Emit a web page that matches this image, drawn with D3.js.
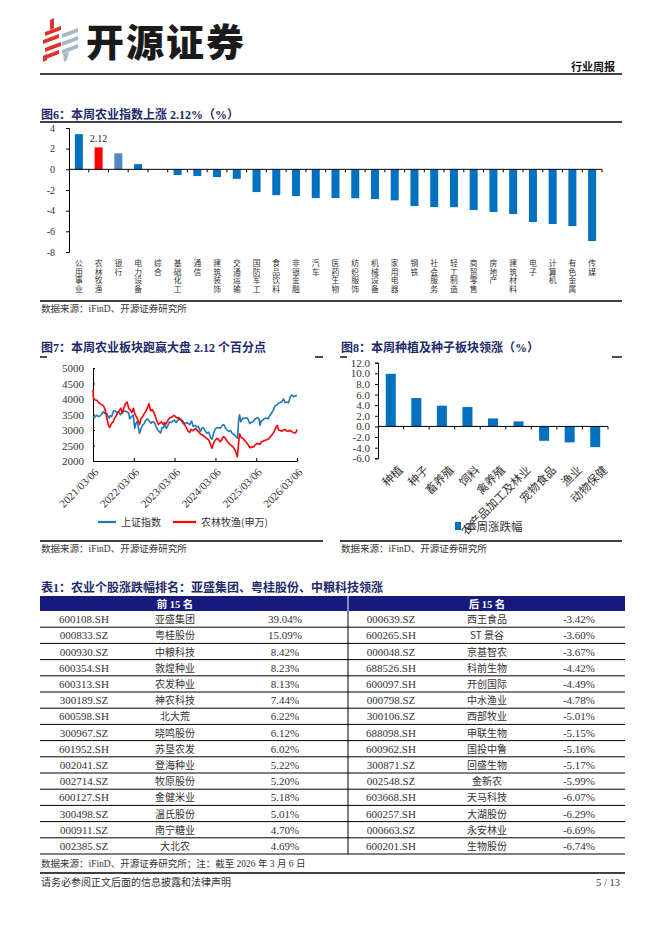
<!DOCTYPE html>
<html><head><meta charset="utf-8">
<script src="https://cdn.jsdelivr.net/npm/d3@7"></script>
<style>body{margin:0;background:#fff}svg{display:block}</style>
</head><body>
<script>
// ---------- DATA ----------
const industries6 = ["公用事业","农林牧渔","银行","电力设备","综合","基础化工","通信","建筑装饰","交通运输","国防军工","食品饮料","非银金融","汽车","医药生物","纺织服饰","机械设备","家用电器","钢铁","社会服务","轻工制造","商贸零售","房地产","建筑材料","电子","计算机","有色金属","传媒"];
const change6 = [3.40,2.12,1.55,0.50,0.02,-0.55,-0.65,-0.75,-0.92,-2.20,-2.50,-2.58,-2.78,-2.78,-2.80,-2.87,-3.00,-3.55,-3.65,-3.66,-3.94,-4.13,-4.33,-5.10,-5.29,-5.49,-6.94];
const yTicks6 = [4,2,0,-2,-4,-6,-8];

const shDates = ["2021-03-06","2021-03-20","2021-04-06","2021-04-20","2021-05-06","2021-05-20","2021-06-06","2021-06-20","2021-07-06","2021-07-27","2021-08-06","2021-08-20","2021-09-06","2021-09-20","2021-10-06","2021-10-20","2021-11-06","2021-11-20","2021-12-06","2021-12-20","2022-01-06","2022-01-20","2022-01-28","2022-02-14","2022-03-01","2022-03-15","2022-03-25","2022-04-06","2022-04-26","2022-05-06","2022-05-20","2022-06-06","2022-06-20","2022-07-06","2022-07-20","2022-08-06","2022-08-20","2022-09-06","2022-09-20","2022-10-06","2022-10-31","2022-11-14","2022-11-28","2022-12-06","2022-12-23","2023-01-06","2023-01-20","2023-02-06","2023-02-20","2023-03-06","2023-03-20","2023-04-06","2023-04-20","2023-05-06","2023-05-20","2023-06-06","2023-06-20","2023-07-06","2023-07-20","2023-08-06","2023-08-20","2023-09-06","2023-09-20","2023-10-06","2023-10-23","2023-11-06","2023-11-20","2023-12-06","2023-12-20","2024-01-06","2024-01-22","2024-02-05","2024-02-20","2024-03-06","2024-03-20","2024-04-06","2024-04-20","2024-05-06","2024-05-20","2024-06-06","2024-06-20","2024-07-06","2024-07-20","2024-08-06","2024-08-20","2024-09-06","2024-09-20","2024-09-30","2024-10-08","2024-10-18","2024-11-06","2024-11-20","2024-12-06","2024-12-20","2025-01-06","2025-01-20","2025-02-06","2025-02-20","2025-03-06","2025-03-20","2025-04-03","2025-04-08","2025-04-20","2025-05-06","2025-05-20","2025-06-06","2025-06-20","2025-07-06","2025-07-20","2025-08-06","2025-08-20","2025-09-06","2025-09-20","2025-10-06","2025-10-20","2025-11-06","2025-11-20","2025-12-06","2025-12-20","2026-01-06","2026-01-20","2026-02-06","2026-02-20","2026-03-06"];
const shValues = [3430,3400,3480,3440,3450,3500,3590,3530,3540,3380,3460,3430,3620,3610,3570,3590,3490,3560,3600,3610,3580,3550,3360,3430,3480,3060,3210,3280,2890,3000,3140,3200,3310,3360,3300,3220,3270,3240,3120,3010,2900,3080,3080,3210,3050,3150,3260,3240,3300,3320,3240,3320,3360,3340,3280,3200,3240,3210,3170,3290,3110,3150,3110,3110,2950,3060,3070,2970,2900,2930,2760,2700,2920,3040,3080,3070,3060,3150,3170,3050,2990,2950,2980,2870,2860,2790,2740,3340,3490,3260,3380,3370,3400,3370,3210,3240,3270,3350,3380,3400,3340,3150,3290,3320,3380,3380,3360,3470,3540,3640,3770,3810,3860,3880,3910,4000,3880,3900,3880,4080,4130,4070,4100,4110];

const agDates = ["2021-03-06","2021-03-10","2021-03-24","2021-04-08","2021-04-22","2021-05-08","2021-05-22","2021-06-08","2021-06-22","2021-07-06","2021-07-20","2021-08-03","2021-08-17","2021-09-01","2021-09-15","2021-09-29","2021-10-13","2021-10-27","2021-11-10","2021-11-24","2021-12-08","2021-12-22","2022-01-06","2022-01-20","2022-02-03","2022-02-17","2022-03-03","2022-03-17","2022-03-31","2022-04-14","2022-04-27","2022-05-11","2022-05-25","2022-06-08","2022-06-22","2022-07-06","2022-07-20","2022-08-03","2022-08-17","2022-08-31","2022-09-14","2022-09-28","2022-10-12","2022-10-26","2022-11-09","2022-11-23","2022-12-07","2022-12-21","2023-01-05","2023-01-19","2023-02-02","2023-02-16","2023-03-02","2023-03-16","2023-03-30","2023-04-13","2023-04-27","2023-05-11","2023-05-25","2023-06-08","2023-06-21","2023-07-05","2023-07-19","2023-08-02","2023-08-16","2023-08-30","2023-09-13","2023-09-27","2023-10-11","2023-10-25","2023-11-08","2023-11-22","2023-12-06","2023-12-20","2024-01-05","2024-01-19","2024-02-05","2024-02-20","2024-03-06","2024-03-20","2024-04-03","2024-04-17","2024-05-01","2024-05-15","2024-05-29","2024-06-12","2024-06-26","2024-07-10","2024-07-24","2024-08-07","2024-08-21","2024-09-04","2024-09-18","2024-09-30","2024-10-08","2024-10-22","2024-11-05","2024-11-19","2024-12-03","2024-12-17","2024-12-31","2025-01-14","2025-01-28","2025-02-11","2025-02-25","2025-03-11","2025-03-25","2025-04-08","2025-04-22","2025-05-06","2025-05-20","2025-06-03","2025-06-17","2025-07-01","2025-07-15","2025-07-29","2025-08-12","2025-08-26","2025-09-09","2025-09-23","2025-10-07","2025-10-21","2025-11-04","2025-11-18","2025-12-02","2025-12-16","2025-12-30","2026-01-13","2026-01-27","2026-02-10","2026-02-24","2026-03-06"];
const agValues = [4300,4020,3970,3960,3900,3850,3820,3780,3650,3420,3180,3080,3200,3260,3380,3450,3560,3620,3700,3540,3720,3850,3900,3700,3640,3560,3700,3500,3420,3300,3180,3380,3430,3530,3600,3720,3850,3620,3660,3580,3450,3300,3180,3220,3260,3180,3240,3200,3310,3380,3400,3440,3470,3420,3380,3400,3330,3290,3200,3150,3060,2960,2920,3020,2980,3020,3050,2980,2930,2860,2850,2800,2770,2720,2680,2560,2410,2600,2680,2730,2700,2620,2680,2780,2760,2680,2600,2560,2500,2470,2400,2300,2140,2600,2880,2760,2740,2680,2620,2560,2470,2420,2460,2450,2520,2560,2560,2540,2620,2640,2660,2680,2700,2740,2800,2860,2940,3060,3150,3000,2980,2960,3000,3020,2970,2960,2990,2960,2930,2900,2920,3020];
const xTickDates7 = ["2021/03/06","2022/03/06","2023/03/06","2024/03/06","2025/03/06","2026/03/06"];
const yTicks7 = [2000,2500,3000,3500,4000,4500,5000];

const sectors8 = ["种植","种子","畜养殖","饲料","禽养殖","农产品加工及林业","宠物食品","渔业","动物保健"];
const change8 = [9.9,5.35,3.9,3.65,1.5,0.95,-2.7,-3.0,-3.9];
const yTicks8 = [12,10,8,6,4,2,0,-2,-4,-6];

const topCodes = ["600108.SH","000833.SZ","000930.SZ","600354.SH","600313.SH","300189.SZ","600598.SH","300967.SZ","601952.SH","002041.SZ","002714.SZ","600127.SH","300498.SZ","000911.SZ","002385.SZ"];
const topNames = ["亚盛集团","粤桂股份","中粮科技","敦煌种业","农发种业","神农科技","北大荒","晓鸣股份","苏垦农发","登海种业","牧原股份","金健米业","温氏股份","南宁糖业","大北农"];
const topPct = [39.04,15.09,8.42,8.23,8.13,7.44,6.22,6.12,6.02,5.22,5.20,5.18,5.01,4.70,4.69];
const botCodes = ["000639.SZ","600265.SH","000048.SZ","688526.SH","600097.SH","000798.SZ","300106.SZ","688098.SH","600962.SH","300871.SZ","002548.SZ","603668.SH","600257.SH","000663.SZ","600201.SH"];
const botNames = ["西王食品","ST 景谷","京基智农","科前生物","开创国际","中水渔业","西部牧业","申联生物","国投中鲁","回盛生物","金新农","天马科技","大湖股份","永安林业","生物股份"];
const botPct = [-3.42,-3.60,-3.67,-4.42,-4.49,-4.78,-5.01,-5.15,-5.16,-5.17,-5.99,-6.07,-6.29,-6.69,-6.74];

// ---------- STYLE ----------
const SERIF = "'Liberation Serif','Times New Roman','Noto Sans CJK SC',serif";
const CJK = "'Noto Sans CJK SC','Liberation Serif',sans-serif";
const NAVY = "#1d2a6c";
const BLUE = "#0070c0";
const TXT = "#333";
const hy = s => s.replace(/\u2212/g,"-");

const svg = d3.select("body").append("svg").attr("width",662).attr("height",936)
  .style("background","#fff");

function hline(x1,x2,y,w=1.2,c="#000"){svg.append("line").attr("x1",x1).attr("x2",x2).attr("y1",y).attr("y2",y).attr("stroke",c).attr("stroke-width",w);}
function text(x,y,s,opt={}){
  const t=svg.append("text").attr("x",x).attr("y",y).text(s)
    .attr("font-family",opt.ff||SERIF).attr("font-size",opt.fs||10)
    .attr("fill",opt.fill||TXT).attr("text-anchor",opt.anchor||"start");
  if(opt.fw) t.attr("font-weight",opt.fw);
  return t;
}

// ---------- HEADER ----------
const logo = svg.append("g");
[[45,26],[43,34],[45,42],[43,50]].forEach(([x,y])=>{
  logo.append("path").attr("d",`M${x},${y+6} L${x+16},${y} L${x+16},${y+4} L${x},${y+10}Z`).attr("fill","#e2332b");
});
logo.append("path").attr("d","M50,20 L54,18 L54,28 L50,30Z").attr("fill","#e2332b");
logo.append("path").attr("d","M43,56 L47,54 L47,60 L43,62Z").attr("fill","#e2332b");
[[62,28],[62,36],[62,44]].forEach(([x,y])=>{
  logo.append("path").attr("d",`M${x},${y+6} L${x+16},${y} L${x+16},${y+4} L${x},${y+10}Z`).attr("fill","#a9b8c6");
});
logo.append("path").attr("d","M63,54 L69,52 L67,60 L64,62Z").attr("fill","#a9b8c6");
text(86,56,"开源证券",{ff:CJK,fs:38,fw:900,fill:"#1a1a1a"}).attr("letter-spacing",2);
text(615,71,"行业周报",{ff:CJK,fs:11,fw:700,fill:"#111",anchor:"end"});
hline(40,622,74,1.4);

// ---------- FIG 6 ----------
text(41,119,"图6：本周农业指数上涨 2.12%（%）",{ff:SERIF,fs:12,fw:700,fill:NAVY});
hline(40,622,122,1.4);
const x6 = d3.scaleBand().domain(industries6).range([69,602]);
const y6 = d3.scaleLinear().domain([-8,4]).range([252,128]);
const g6 = svg.append("g");
g6.selectAll("rect").data(industries6).join("rect")
  .attr("x",d=>x6(d)+x6.bandwidth()/2-4).attr("width",8)
  .attr("y",(d,i)=>y6(Math.max(0,change6[i])))
  .attr("height",(d,i)=>Math.abs(y6(change6[i])-y6(0)))
  .attr("fill",(d,i)=>d==="农林牧渔"?"#ff0000":(d==="银行"?"#5485c4":BLUE));
g6.append("g").attr("transform","translate(69,0)")
  .call(d3.axisLeft(y6).tickValues(yTicks6).tickSize(3).tickFormat(d=>hy(d3.format("d")(d))))
  .call(a=>{a.select(".domain").attr("stroke","#000");a.selectAll("line").attr("stroke","#000");
    a.selectAll("text").attr("font-family",SERIF).attr("font-size",10).attr("fill",TXT).attr("dx",-8);});
g6.append("line").attr("x1",69).attr("x2",602).attr("y1",y6(0)).attr("y2",y6(0)).attr("stroke","#000").attr("stroke-width",1);
industries6.forEach(d=>{
  g6.append("line").attr("x1",x6(d)+x6.bandwidth()).attr("x2",x6(d)+x6.bandwidth()).attr("y1",y6(0)).attr("y2",y6(0)+3).attr("stroke","#000");
});
text(x6("农林牧渔")+x6.bandwidth()/2,y6(change6[1])-5,"2.12",{fs:10,anchor:"middle",fill:"#222"});
g6.selectAll("text.vlab").data(industries6).join("text").attr("class","vlab")
  .attr("x",d=>x6(d)+x6.bandwidth()/2).attr("y",259)
  .attr("writing-mode","vertical-rl").style("text-orientation","upright")
  .attr("letter-spacing",1).attr("font-family",CJK).attr("font-size",7.8).attr("fill",TXT).text(d=>d);
hline(40,622,301,1.4);
text(41,312,"数据来源：iFinD、开源证券研究所",{fs:9.5,fill:TXT});

// ---------- FIG 7 ----------
text(41,352,"图7：本周农业板块跑赢大盘 2.12 个百分点",{fs:12,fw:700,fill:NAVY});
hline(40,47,357,1.4); hline(315,323,357,1.4);
const parse = d3.timeParse("%Y-%m-%d");
const parse2 = d3.timeParse("%Y/%m/%d");
const x7 = d3.scaleTime().domain([parse("2021-03-06"),parse("2026-03-06")]).range([93,297]);
const y7 = d3.scaleLinear().domain([2000,5000]).range([461,368]);
const g7 = svg.append("g");
g7.append("g").attr("transform","translate(93,0)")
  .call(d3.axisLeft(y7).tickValues(yTicks7).tickSize(-2).tickPadding(9).tickFormat(d3.format("d")))
  .call(a=>{a.select(".domain").attr("stroke","#000");a.selectAll("line").attr("stroke","#000");
    a.selectAll("text").attr("font-family",SERIF).attr("font-size",11).attr("fill",TXT);});
g7.append("g").attr("transform","translate(0,461)")
  .call(d3.axisBottom(x7).tickValues(xTickDates7.map(parse2)).tickSize(-3).tickFormat(d3.timeFormat("%Y/%m/%d")))
  .call(a=>{a.select(".domain").attr("stroke","#000");a.selectAll("line").attr("stroke","#000");
    a.selectAll("text").attr("font-family",SERIF).attr("font-size",11).attr("fill",TXT)
     .attr("text-anchor","end").attr("transform","translate(3,9) rotate(-45)").attr("dy","0.35em").attr("y",0);});
const line7 = d3.line().x(d=>x7(d[0])).y(d=>y7(d[1]));
g7.append("path").datum(shDates.map((d,i)=>[parse(d),shValues[i]]))
  .attr("d",line7).attr("fill","none").attr("stroke","#1f77bc").attr("stroke-width",1.6).attr("stroke-linejoin","round");
g7.append("path").datum(agDates.map((d,i)=>[parse(d),agValues[i]]))
  .attr("d",line7).attr("fill","none").attr("stroke","#ff0000").attr("stroke-width",1.6).attr("stroke-linejoin","round");
hline(98,116,522,2.2,"#1f77bc");
text(121,526,"上证指数",{ff:CJK,fs:10,fill:TXT});
hline(173,196,522,2.2,"#ff0000");
text(201,526,"农林牧渔(申万)",{ff:CJK,fs:10,fill:TXT});
hline(40,323,541,1.4);
text(41,552,"数据来源：iFinD、开源证券研究所",{fs:9.5,fill:TXT});

// ---------- FIG 8 ----------
text(341,352,"图8：本周种植及种子板块领涨（%）",{fs:12,fw:700,fill:NAVY});
hline(340,347,357,1.4); hline(612,622,357,1.4);
const x8 = d3.scaleBand().domain(sectors8).range([378,608]);
const y8 = d3.scaleLinear().domain([-6,12]).range([458.3,362.7]);
const g8 = svg.append("g");
g8.selectAll("rect").data(sectors8).join("rect")
  .attr("x",d=>x8(d)+x8.bandwidth()/2-5).attr("width",10)
  .attr("y",(d,i)=>y8(Math.max(0,change8[i])))
  .attr("height",(d,i)=>Math.abs(y8(change8[i])-y8(0)))
  .attr("fill",BLUE);
g8.append("g").attr("transform","translate(378,0)")
  .call(d3.axisLeft(y8).tickValues(yTicks8).tickSize(3).tickFormat(d=>hy(d3.format(".1f")(d))))
  .call(a=>{a.select(".domain").attr("stroke","#000");a.selectAll("line").attr("stroke","#000");
    a.selectAll("text").attr("font-family",SERIF).attr("font-size",11).attr("fill",TXT).attr("dx",-2);});
g8.append("line").attr("x1",378).attr("x2",608).attr("y1",y8(0)).attr("y2",y8(0)).attr("stroke","#000");
sectors8.forEach(d=>{
  g8.append("line").attr("x1",x8(d)+x8.bandwidth()).attr("x2",x8(d)+x8.bandwidth()).attr("y1",y8(0)).attr("y2",y8(0)+3).attr("stroke","#000");
});
sectors8.forEach(d=>{
  g8.append("text").attr("transform",`translate(${x8(d)+x8.bandwidth()/2+10},468) rotate(-45)`)
    .attr("text-anchor","end").attr("dy","0.35em").attr("font-family",CJK).attr("font-size",11.5).attr("fill",TXT).text(d);
});
g8.append("rect").attr("x",455).attr("y",522).attr("width",6).attr("height",8).attr("fill",BLUE);
text(465,531,"本周涨跌幅",{ff:CJK,fs:11.5,fill:TXT});
hline(340,622,541,1.4);
text(341,552,"数据来源：iFinD、开源证券研究所",{fs:9.5,fill:TXT});

// ---------- TABLE ----------
text(41,592,"表1：农业个股涨跌幅排名：亚盛集团、粤桂股份、中粮科技领涨",{fs:12,fw:700,fill:NAVY});
const HDR="#16197d";
svg.append("rect").attr("x",40).attr("y",596).attr("width",307.5).attr("height",15).attr("fill",HDR);
svg.append("rect").attr("x",348.5).attr("y",596).attr("width",276.5).attr("height",15).attr("fill",HDR);
text(175,607.5,"前 15 名",{fs:10.5,fw:700,fill:"#fff",anchor:"middle"});
text(487,607.5,"后 15 名",{fs:10.5,fw:700,fill:"#fff",anchor:"middle"});
const rowY = d3.scaleLinear().domain([0,15]).range([611,854]);
const fmtPct = d=>hy(d3.format(".2f")(d))+"%";
d3.range(15).forEach(i=>{
  const yc = (rowY(i)+rowY(i+1))/2 + 4;
  text(84,yc,topCodes[i],{fs:11,anchor:"middle"});
  text(175,yc,topNames[i],{ff:CJK,fs:10,anchor:"middle"});
  text(285,yc,fmtPct(topPct[i]),{fs:11,anchor:"middle"});
  text(391,yc,botCodes[i],{fs:11,anchor:"middle"});
  text(487,yc,botNames[i],{ff:CJK,fs:10,anchor:"middle"});
  text(579,yc,fmtPct(botPct[i]),{fs:11,anchor:"middle"});
  hline(40,625,rowY(i+1),1);
});
svg.append("line").attr("x1",348).attr("x2",348).attr("y1",611).attr("y2",854).attr("stroke","#000").attr("stroke-width",1);
text(41,867,"数据来源：iFinD、开源证券研究所；注：截至 2026 年 3 月 6 日",{fs:9.5,fill:TXT});
hline(40,625,873,1.4);
text(41,886,"请务必参阅正文后面的信息披露和法律声明",{ff:CJK,fs:10,fill:TXT});
text(620,886,"5 / 13",{fs:10.5,fill:TXT,anchor:"end"});
</script>
</body></html>
